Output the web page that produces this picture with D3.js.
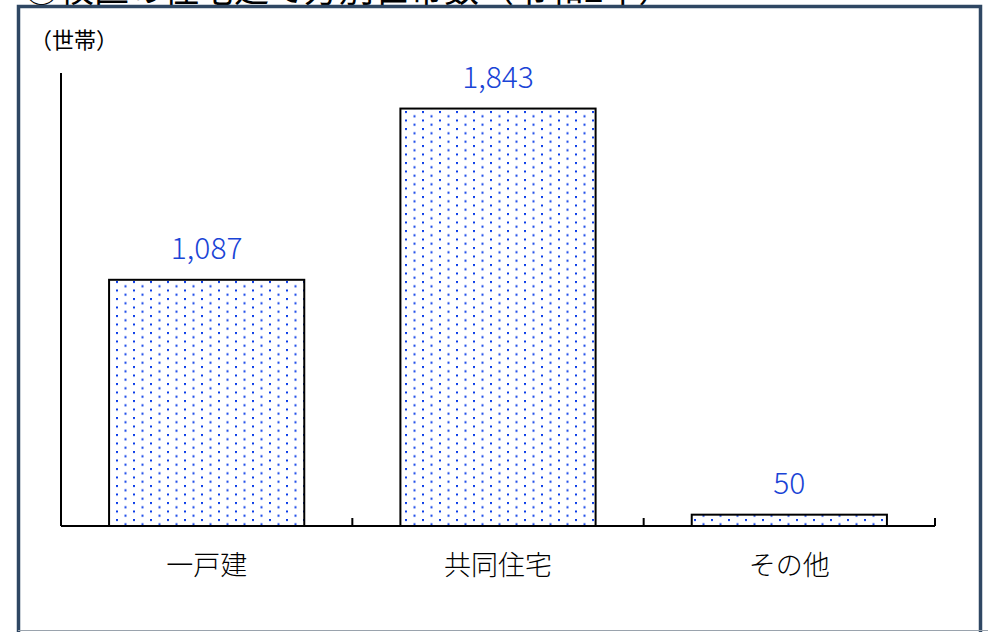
<!DOCTYPE html>
<html><head><meta charset="utf-8">
<script src="https://cdn.jsdelivr.net/npm/d3@7"></script>
<style>html,body{margin:0;padding:0;background:#fff;}svg{display:block;}</style>
</head><body>
<svg id="chart" width="988" height="632"></svg>
<script>
const title = "③校区の住宅建て方別世帯数（令和2年）";
const unitLabel = "（世帯）";
const categories = ["一戸建", "共同住宅", "その他"];
const values = [1087, 1843, 50];
const yMax = 2000;

(function () {
const svg = d3.select("#chart");
const font = "'Noto Sans CJK JP', 'Noto Sans', sans-serif";

// title (cut off at top, as in the source image)
svg.append("text").attr("x", 24).attr("y", 2).attr("font-family", font)
  .attr("font-size", 35).attr("fill", "#000").text(title);

// frame
svg.append("rect").attr("x", 18.5).attr("y", 6.5).attr("width", 962).attr("height", 640)
  .attr("fill", "#fff").attr("stroke", "#2f4763").attr("stroke-width", 3.5);
svg.append("line").attr("x1", 18).attr("x2", 988).attr("y1", 630.5).attr("y2", 630.5)
  .attr("stroke", "#9aa3ad").attr("stroke-width", 1);

// pattern
const defs = svg.append("defs");
const pat = defs.append("pattern").attr("id", "dots").attr("patternUnits", "userSpaceOnUse")
  .attr("x", 405).attr("y", 111).attr("width", 17).attr("height", 8.5);
pat.append("rect").attr("width", 17).attr("height", 8.5).attr("fill", "#fff");
pat.append("rect").attr("x", 0).attr("y", 0).attr("width", 2).attr("height", 2).attr("fill", "#0b3de8");
pat.append("rect").attr("x", 8.5).attr("y", 4.25).attr("width", 2).attr("height", 2).attr("fill", "#0b3de8");

const pLeft = 61, pRight = 935, pTop = 73, pBottom = 526;
const x = d3.scaleBand().domain(categories).range([pLeft, pRight]).paddingInner(0.33).paddingOuter(0.165);
const xb = d3.scaleBand().domain(categories).range([pLeft, pRight]).padding(0);
const y = d3.scaleLinear().domain([0, yMax]).range([pBottom, pTop]);

// bars
svg.selectAll("rect.bar").data(values).enter().append("rect").attr("class", "bar")
  .attr("x", (d, i) => x(categories[i]))
  .attr("y", d => y(d))
  .attr("width", x.bandwidth())
  .attr("height", d => pBottom - y(d))
  .attr("fill", "url(#dots)").attr("stroke", "#000").attr("stroke-width", 2);

// value labels
svg.selectAll("text.val").data(values).enter().append("text").attr("class", "val")
  .attr("x", (d, i) => x(categories[i]) + x.bandwidth() / 2)
  .attr("y", d => y(d) - 21)
  .attr("text-anchor", "middle").attr("font-family", font).attr("font-size", 30)
  .attr("font-weight", 300)
  .attr("fill", "#1a44d6").text(d => d3.format(",")(d));

// y axis line
svg.append("line").attr("x1", pLeft).attr("x2", pLeft).attr("y1", pTop).attr("y2", pBottom)
  .attr("stroke", "#000").attr("stroke-width", 2);

// x axis
const xAxis = svg.append("g").attr("transform", `translate(0,${pBottom})`);
xAxis.append("line").attr("x1", pLeft).attr("x2", pRight).attr("y1", 0).attr("y2", 0)
  .attr("stroke", "#000").attr("stroke-width", 2);
xAxis.selectAll("line.tick").data(categories).enter().append("line").attr("class", "tick")
  .attr("x1", d => xb(d) + xb.bandwidth()).attr("x2", d => xb(d) + xb.bandwidth())
  .attr("y1", 0).attr("y2", -8).attr("stroke", "#000").attr("stroke-width", 2);
xAxis.selectAll("text.cat").data(categories).enter().append("text").attr("class", "cat")
  .attr("x", d => xb(d) + xb.bandwidth() / 2).attr("y", 49)
  .attr("text-anchor", "middle").attr("font-family", font).attr("font-size", 27)
  .attr("font-weight", 300)
  .attr("fill", "#000").text(d => d);

// unit label
svg.append("text").attr("x", 30).attr("y", 48).attr("font-family", font)
  .attr("font-size", 22).attr("fill", "#000").text(unitLabel);
})();
</script>
</body></html>
